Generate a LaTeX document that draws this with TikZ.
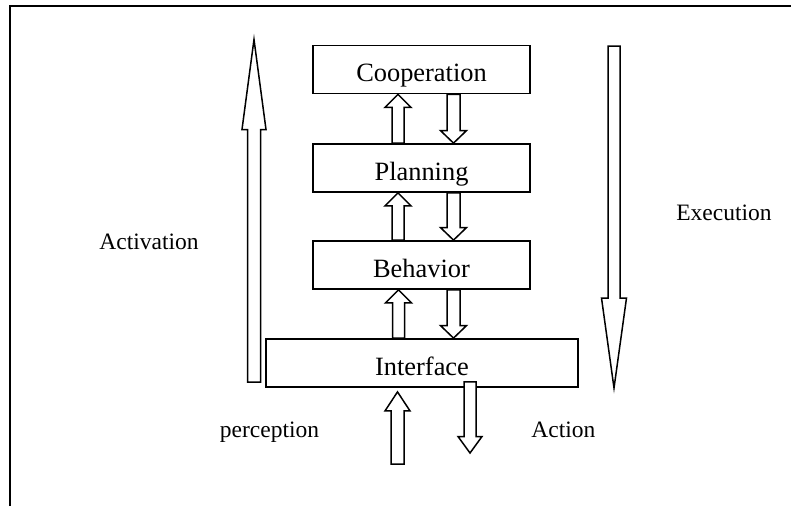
\documentclass[tikz,border=0pt]{standalone}
\usepackage{fontspec}
\setmainfont{Liberation Serif}
\usetikzlibrary{calc}

\tikzset{
 layer/.style={draw, line width=1.8pt, fill=white, inner sep=0pt, minimum height=48pt,
  text height=28pt, text depth=4pt, font=\fontsize{26.4}{30}\selectfont},
 blk/.style={draw, line width=1.5pt, fill=white, line join=miter},
 lbl/.style={font=\fontsize{23.5}{28}\selectfont, inner sep=0pt, anchor=base}
}
% hollow block arrow: from, to, half shaft, half head, head length
\newcommand{\blockarrow}[5]{%
 \draw[blk] let \p1=(#1), \p2=(#2), \n1={sign(\y2-\y1)} in
  ({\x1-#3},\y1) -- ({\x1-#3},{\y2-\n1*#5}) -- ({\x1-#4},{\y2-\n1*#5}) -- (\x1,\y2)
  -- ({\x1+#4},{\y2-\n1*#5}) -- ({\x1+#3},{\y2-\n1*#5}) -- ({\x1+#3},\y1) -- cycle;}

\begin{document}
\begin{tikzpicture}[x=1pt,y=-1pt]
\useasboundingbox (0,0) rectangle (791,506);
\draw[line width=1.7pt] (10,506) -- (10,5.7) -- (791,5.7);

\node[layer, minimum width=217pt] (coop) at (421.5,69.5) {Cooperation};
\node[layer, minimum width=217pt] (plan) at (421.5,168) {Planning};
\node[layer, minimum width=217pt] (behav) at (421.5,265) {Behavior};
\node[layer, minimum width=312pt] (intf) at (422,363) {Interface};

\foreach \lo/\hi in {plan/coop, behav/plan, intf/behav} {
 \blockarrow{$(\lo.north)+(-23.5,0)$}{$(\hi.south)+(-23.5,0)$}{6pt}{13pt}{13pt}
 \blockarrow{$(\hi.south)+(32,0)$}{$(\lo.north)+(32,0)$}{6.5pt}{13pt}{12.5pt}
}

% activation / execution
\coordinate (actbot) at (254,382);
\coordinate (acttop) at (254,39.5);
\blockarrow{actbot}{acttop}{6.5pt}{12pt}{90pt}
\coordinate (exetop) at (614,46);
\coordinate (exebot) at (614,388);
\blockarrow{exetop}{exebot}{6pt}{12.5pt}{90pt}

% perception / action
\coordinate (percin) at (397.5,464);
\coordinate (actout) at (470,453);
\blockarrow{percin}{$(intf.south)+(-24.5,4)$}{6.5pt}{12.5pt}{19pt}
\blockarrow{$(intf.south)+(48,-6)$}{actout}{6pt}{12pt}{16.5pt}

\node[lbl] (activ) at (149,249.3) {Activation};
\node[lbl] (exec) at (724,220) {Execution};
\node[lbl] (perc) at (269.5,437.3) {perception};
\node[lbl] (act) at (563.4,437.3) {Action};
\end{tikzpicture}
\end{document}
